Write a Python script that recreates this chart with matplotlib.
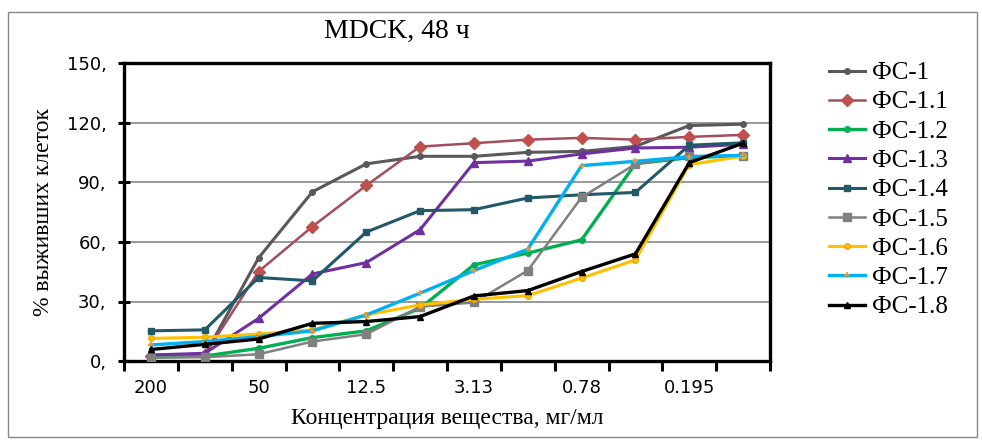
import numpy as np
import matplotlib.pyplot as plt
from matplotlib.patches import Rectangle

categories=["200","100","50","25","12.5","6.25","3.13","1.56","0.78","0.39","0.195","0.098"]
y_ticks=[0,30,60,90,120,150]
y_tick_labels=["0,","30,","60,","90,","120,","150,"]

fs_1  =[3.0,3.0,52.0,85.3,99.4,103.2,103.2,105.2,105.7,108.2,118.7,119.4]
fs_1_1=[2.5,3.0,45.1,67.8,88.5,108.1,109.8,111.6,112.5,111.6,113.0,114.0]
fs_1_2=[2.0,2.5,6.4,11.8,15.2,26.6,48.5,54.4,61.1,99.5,102.5,103.5]
fs_1_3=[3.0,3.9,21.5,43.9,49.6,66.2,100.0,100.8,104.4,107.4,107.8,109.3]
fs_1_4=[15.2,15.7,42.1,40.4,65.0,75.8,76.3,82.2,83.8,85.0,108.8,110.0]
fs_1_5=[1.7,1.9,3.4,9.8,13.5,27.4,29.5,45.6,82.5,99.3,103.3,103.5]
fs_1_6=[11.4,12.0,13.6,15.7,23.2,28.3,31.1,33.0,41.8,51.0,99.0,103.3]
fs_1_7=[8.1,9.8,12.3,15.2,23.2,34.2,45.6,56.4,98.5,100.7,103.0,103.7]
fs_1_8=[5.8,8.4,11.1,19.0,19.9,22.4,32.8,35.5,45.1,54.0,100.0,109.8]

series=[
    ("ФС-1",fs_1,dict(color="#595959",lw=2.2,marker="o",ms=4,mfc="#595959",mec="#595959")),
    ("ФС-1.1",fs_1_1,dict(color="#A34D5F",lw=1.8,marker="D",ms=6,mfc="#C0504D",mec="#C0504D")),
    ("ФС-1.2",fs_1_2,dict(color="#00B050",lw=2.4,marker="o",ms=4,mfc="#00B050",mec="#00B050")),
    ("ФС-1.3",fs_1_3,dict(color="#7030A0",lw=2.2,marker="^",ms=6,mfc="#7030A0",mec="#7030A0")),
    ("ФС-1.4",fs_1_4,dict(color="#215968",lw=2.2,marker="s",ms=5,mfc="#215968",mec="#215968")),
    ("ФС-1.5",fs_1_5,dict(color="#808080",lw=1.8,marker="s",ms=6,mfc="#808080",mec="#808080")),
    ("ФС-1.6",fs_1_6,dict(color="#FFC000",lw=2.2,marker="o",ms=4,mfc="#FFC000",mec="#F0A800")),
    ("ФС-1.7",fs_1_7,dict(color="#00B0F0",lw=2.4,marker="+",ms=5,mfc="#E09A3A",mec="#E09A3A",mew=1.2)),
    ("ФС-1.8",fs_1_8,dict(color="#000000",lw=2.4,marker="^",ms=5,mfc="#000000",mec="#000000")),
]

fig=plt.figure(figsize=(9.82,4.41),dpi=100,facecolor="white")
ax=fig.add_axes([124/982,(441-361)/441,(770-124)/982,(361-63.5)/441])
x=np.arange(len(categories))
for name,vals,style in series:
    ax.plot(x,vals,label=name,**style,zorder=3)

ax.set_xlim(-0.5,len(categories)-0.5)
ax.set_ylim(0,150)
ax.set_yticks(y_ticks)
ax.set_yticklabels(y_tick_labels,fontsize=13,family="DejaVu Sans")
ax.set_xticks(np.arange(-0.5,len(categories)),labels=[])
ax.set_xticks(x[::2],labels=categories[::2],minor=True,fontsize=13,family="DejaVu Sans")
ax.tick_params(axis="x",which="major",direction="out",length=7,width=2.2)
ax.tick_params(axis="x",which="minor",length=0,pad=13)
ax.tick_params(axis="y",direction="inout",length=9,width=2.2,pad=8)
for sp in ax.spines.values():
    sp.set_linewidth(2.4)
    sp.set_color("black")
for v in y_ticks[1:-1]:
    ax.axhline(v,color="#868686",lw=1.2,zorder=1)

ax.set_xlabel("Концентрация вещества, мг/мл",family="Liberation Serif",fontsize=17,labelpad=8)
ax.set_ylabel("% выживших клеток",family="Liberation Serif",fontsize=17,labelpad=9)
fig.text(397/982,1-31/441,"MDCK, 48 ч",family="Liberation Serif",fontsize=20,ha="center",va="center")

leg=fig.legend(loc="center left",bbox_to_anchor=(816/982,1-190/441),frameon=False,borderpad=0,
               prop={"family":"Liberation Serif","size":18},handlelength=1.45,labelspacing=0.27,handletextpad=0.3)

fig.add_artist(Rectangle((8/982,4/441),(977-8)/982,(429-4)/441,transform=fig.transFigure,fill=False,edgecolor="#868686",lw=1))
fig.savefig("out.png",dpi=100,facecolor="white")
